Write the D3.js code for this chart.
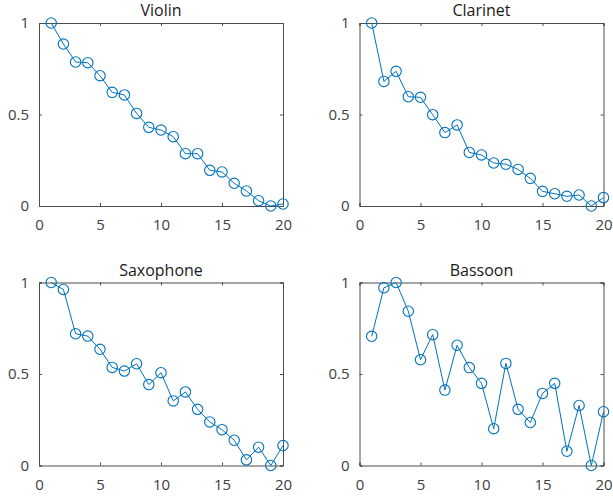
<!DOCTYPE html>
<html>
<head>
<meta charset="utf-8" />
<title>D3 - instrument panels</title>
<style>
body { margin: 0; background: #fff; }
svg { display: block; }
.tick text { font-family: "Open Sans", "Noto Sans", sans-serif; font-size: 15px; fill: #404040; }
.title { font-family: "Open Sans", "Noto Sans", sans-serif; font-size: 16px; fill: #1a1a1a; }
</style>
</head>
<body>
<div id="graph"></div>
<script src="https://d3js.org/d3.v7.min.js"></script>
<script>
// harmonic index 1..20
var harmonics = d3.range(1, 21);
var xTicks = [0, 5, 10, 15, 20];
var yTicks = [0, 0.5, 1];
var yTickLabels = ["0", "0.5", "1"];

var violin = [1.0, 0.885, 0.787, 0.783, 0.712, 0.621, 0.607, 0.506, 0.430, 0.415,
              0.379, 0.286, 0.286, 0.195, 0.186, 0.124, 0.082, 0.029, 0.0, 0.011];
var clarinet = [1.0, 0.681, 0.736, 0.597, 0.594, 0.499, 0.401, 0.443, 0.293, 0.279,
                0.235, 0.228, 0.200, 0.151, 0.080, 0.067, 0.053, 0.060, 0.0, 0.046];
var saxophone = [1.0, 0.962, 0.720, 0.707, 0.635, 0.536, 0.516, 0.556, 0.442, 0.507,
                 0.353, 0.402, 0.307, 0.238, 0.196, 0.138, 0.031, 0.100, 0.0, 0.109];
var bassoon = [0.706, 0.971, 1.0, 0.843, 0.578, 0.715, 0.412, 0.657, 0.535, 0.449,
               0.201, 0.558, 0.307, 0.235, 0.394, 0.449, 0.078, 0.328, 0.0, 0.294];

var names = ["Violin", "Clarinet", "Saxophone", "Bassoon"];
var series = [violin, clarinet, saxophone, bassoon];

var width = 613, height = 497;
var blue = "#0072bd";
var axisColor = "#4d4d4d";

// axes boxes: [left, top]
var panelW = 244, panelH = 183;
var origins = [[39, 23], [359.5, 23], [39, 282.5], [359.5, 282.5]];

var svg = d3.select("#graph").append("svg")
    .attr("width", width)
    .attr("height", height);

series.forEach(function(vals, k) {
    var ox = origins[k][0], oy = origins[k][1];
    var x = d3.scaleLinear().domain([0, 20]).range([0, panelW]);
    var y = d3.scaleLinear().domain([0, 1]).range([panelH, 0]);

    var g = svg.append("g").attr("transform", "translate(" + ox + "," + oy + ")");

    // box ticks on top and right (inward)
    g.append("g")
        .attr("class", "axis")
        .call(d3.axisTop(x).tickValues(xTicks).tickSize(-3).tickFormat(""));
    g.append("g")
        .attr("class", "axis")
        .attr("transform", "translate(" + panelW + ",0)")
        .call(d3.axisRight(y).tickValues(yTicks).tickSize(-3).tickFormat(""));

    g.append("g")
        .attr("class", "axis")
        .attr("transform", "translate(0," + panelH + ")")
        .call(d3.axisBottom(x).tickValues(xTicks).tickSize(-3).tickPadding(13.5));
    g.append("g")
        .attr("class", "axis")
        .call(d3.axisLeft(y).tickValues(yTicks).tickSize(-3).tickPadding(10)
            .tickFormat(function(d, i) { return yTickLabels[i]; }));

    g.selectAll(".axis path.domain").attr("stroke", axisColor).attr("stroke-width", 1);
    g.selectAll(".axis .tick line").attr("stroke", axisColor);

    g.append("text")
        .attr("class", "title")
        .attr("x", panelW / 2)
        .attr("y", -7)
        .attr("text-anchor", "middle")
        .text(names[k]);

    var pts = harmonics.map(function(h, i) { return [h, vals[i]]; });

    g.append("path")
        .datum(pts)
        .attr("fill", "none")
        .attr("stroke", blue)
        .attr("stroke-width", 1)
        .attr("d", d3.line().x(function(d) { return x(d[0]); }).y(function(d) { return y(d[1]); }));

    g.selectAll("circle")
        .data(pts)
        .enter().append("circle")
        .attr("cx", function(d) { return x(d[0]); })
        .attr("cy", function(d) { return y(d[1]); })
        .attr("r", 5.2)
        .attr("fill", "none")
        .attr("stroke", blue)
        .attr("stroke-width", 1.1);
});
</script>
</body>
</html>
